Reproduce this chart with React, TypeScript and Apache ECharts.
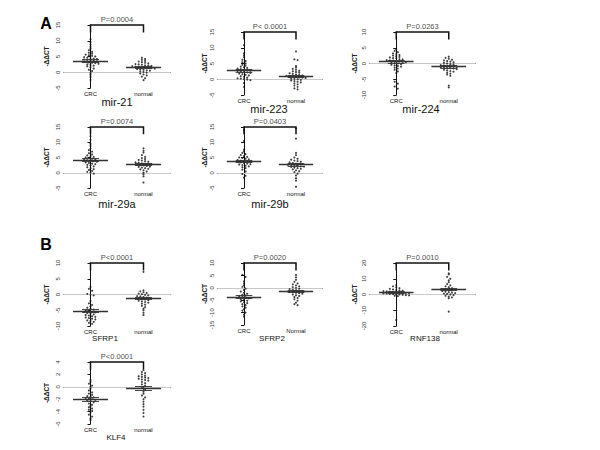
import React, { useEffect, useRef } from "react";
import * as echarts from "echarts";

// ---------- data ----------
const panelNames = ["mir-21", "mir-223", "mir-224", "mir-29a", "mir-29b", "SFRP1", "SFRP2", "RNF138", "KLF4"];
const categories = ["CRC", "normal"];
const categoriesSFRP2 = ["CRC", "Normal"];
const pValues = ["P=0.0004", "P< 0.0001", "P=0.0263", "P=0.0074", "P=0.0403", "P<0.0001", "P=0.0020", "P=0.0010", "P<0.0001"];

const crc21 = [10.5, 9.6, 8.8, 8.1, 7.5, 7.0, 6.5, 6.2, 5.9, 5.6, 5.4, 5.2, 5.0, 4.8, 4.6, 4.5, 4.3, 4.2, 4.0, 3.9, 3.8, 3.7, 3.5, 3.4, 3.3, 3.1, 3.0, 2.9, 2.7, 2.5, 2.3, 2.1, 1.9, 1.6, 1.2, 0.8, 0.4, -0.2, -0.8, -1.5, -2.4];
const normal21 = [4.6, 4.2, 3.9, 3.6, 3.4, 3.2, 3.0, 2.8, 2.6, 2.5, 2.4, 2.2, 2.1, 2.0, 1.9, 1.8, 1.7, 1.6, 1.5, 1.4, 1.3, 1.2, 1.0, 0.9, 0.8, 0.6, 0.5, 0.3, 0.1, -0.1, -0.4, -0.7, -1.0, -1.4, -1.9, -2.5];

const crc223 = [10.8, 8.2, 7.6, 7.0, 6.2, 5.8, 5.4, 5.0, 4.6, 4.3, 4.0, 3.8, 3.6, 3.4, 3.2, 3.0, 2.9, 2.7, 2.6, 2.5, 2.3, 2.2, 2.0, 1.8, 1.6, 1.4, 1.2, 1.0, 0.8, 0.5, 0.3, 0.2, 0.0, -0.1, -0.3, -1.2, -2.4];
const normal223 = [8.8, 6.3, 6.1, 4.2, 3.7, 3.3, 3.0, 2.7, 2.5, 2.3, 2.1, 1.9, 1.7, 1.5, 1.4, 1.2, 1.1, 1.0, 0.9, 0.7, 0.6, 0.5, 0.4, 0.2, 0.1, 0.0, -0.2, -0.4, -0.6, -0.8, -1.0, -1.3, -1.6, -2.0, -2.4, -2.9, -3.2];

const crc224 = [4.5, 4.0, 3.6, 3.2, 3.0, 2.7, 2.5, 2.3, 2.1, 1.9, 1.7, 1.6, 1.4, 1.3, 1.1, 1.0, 0.9, 0.8, 0.6, 0.5, 0.4, 0.2, 0.1, 0.0, -0.2, -0.4, -0.6, -0.8, -1.0, -1.3, -1.6, -2.0, -2.5, -3.0, -5.8, -6.4, -7.3, -8.0];
const normal224 = [2.2, 1.8, 1.5, 1.2, 1.0, 0.8, 0.6, 0.4, 0.2, 0.0, -0.2, -0.3, -0.5, -0.6, -0.8, -0.9, -1.0, -1.1, -1.2, -1.3, -1.4, -1.5, -1.6, -1.8, -2.0, -2.2, -2.4, -2.6, -2.9, -3.2, -3.5, -3.9, -7.0, -7.6];

const crc29a = [12.0, 10.8, 9.5, 8.8, 8.0, 7.4, 6.9, 6.4, 6.0, 5.7, 5.4, 5.2, 5.0, 4.8, 4.6, 4.4, 4.3, 4.1, 4.0, 3.8, 3.6, 3.4, 3.2, 3.0, 2.8, 2.6, 2.4, 2.1, 1.8, 1.5, 1.2, 0.9, 0.6, 0.3, 0.0, -0.3];
const normal29a = [8.0, 7.2, 6.6, 5.8, 5.2, 4.8, 4.5, 4.2, 4.0, 3.8, 3.6, 3.4, 3.3, 3.1, 3.0, 2.9, 2.8, 2.6, 2.5, 2.4, 2.2, 2.0, 1.9, 1.7, 1.5, 1.3, 1.1, 0.8, 0.4, 0.0, -0.5, -1.2, -3.2];

const crc29b = [14.0, 10.4, 7.6, 7.0, 6.5, 6.1, 5.8, 5.5, 5.2, 5.0, 4.8, 4.6, 4.4, 4.2, 4.0, 3.9, 3.8, 3.6, 3.5, 3.4, 3.2, 3.0, 2.8, 2.7, 2.5, 2.3, 2.1, 1.8, 1.5, 1.0, 0.4, -0.4, -1.0, -1.6];
const normal29b = [14.5, 11.2, 6.5, 5.8, 5.0, 4.6, 4.3, 4.0, 3.8, 3.6, 3.4, 3.2, 3.0, 2.9, 2.8, 2.6, 2.5, 2.4, 2.3, 2.1, 2.0, 1.9, 1.7, 1.5, 1.3, 1.1, 0.8, 0.5, 0.2, -0.3, -0.9, -1.8, -2.6, -4.6];

const crcSFRP1 = [2.4, 1.8, 1.2, 0.2, -0.1, -0.3, -2.0, -2.8, -3.3, -3.8, -4.2, -4.5, -4.8, -5.0, -5.3, -5.5, -5.7, -5.9, -6.1, -6.3, -6.5, -6.7, -6.9, -7.1, -7.3, -7.5, -7.7, -7.9, -8.2, -8.4, -8.7, -9.0, -9.3];
const normalSFRP1 = [7.2, 1.3, 1.0, 0.7, 0.5, 0.3, 0.1, -0.1, -0.3, -0.5, -0.6, -0.8, -1.0, -1.1, -1.3, -1.4, -1.6, -1.8, -2.0, -2.2, -2.4, -2.6, -2.9, -3.2, -3.6, -4.0, -4.5, -5.0, -5.8, -6.5];

const crcSFRP2 = [5.2, 4.4, 2.6, 1.8, 1.0, 0.4, -0.3, -0.9, -1.5, -2.0, -2.4, -2.8, -3.1, -3.4, -3.7, -4.0, -4.3, -4.6, -4.9, -5.2, -5.5, -5.8, -6.2, -6.6, -7.0, -7.5, -8.0, -8.6, -9.2, -10.0, -10.8, -11.6];
const normalSFRP2 = [5.2, 4.2, 3.2, 2.4, 1.8, 1.4, 1.0, 0.6, 0.3, 0.0, -0.3, -0.5, -0.8, -1.0, -1.2, -1.4, -1.6, -1.8, -2.0, -2.2, -2.4, -2.7, -3.0, -3.3, -3.7, -4.1, -4.6, -5.2, -6.0, -6.6, -7.0];

const crcRNF138 = [6.0, 5.2, 4.6, 4.0, 3.6, 3.2, 2.9, 2.6, 2.4, 2.2, 2.0, 1.8, 1.6, 1.5, 1.3, 1.2, 1.0, 0.9, 0.7, 0.6, 0.4, 0.3, 0.1, 0.0, -0.2, -0.4, -0.6, -0.8, -1.0, -16.2];
const normalRNF138 = [13.4, 12.8, 11.2, 10.0, 9.0, 7.8, 6.6, 5.8, 5.2, 4.6, 4.0, 3.5, 3.0, 2.6, 2.2, 1.8, 1.5, 1.2, 0.9, 0.6, 0.3, 0.0, -0.4, -0.8, -1.3, -1.8, -2.4, -10.9];

const crcKLF4 = [1.1, 0.8, 0.5, 0.2, 0.0, -0.3, -0.6, -0.9, -1.1, -1.3, -1.5, -1.6, -1.7, -1.8, -1.9, -2.0, -2.1, -2.2, -2.3, -2.5, -2.7, -2.9, -3.1, -3.3, -3.5, -3.7, -3.9, -4.2, -4.5, -4.8, -5.1, -5.35];
const normalKLF4 = [2.7, 2.4, 2.2, 2.0, 1.8, 1.7, 1.6, 1.5, 1.4, 1.3, 1.2, 1.1, 1.0, 0.8, 0.6, 0.4, 0.2, 0.0, -0.2, -0.5, -0.8, -1.1, -1.4, -1.7, -2.0, -2.4, -2.8, -3.2, -3.7, -4.2, -4.8];

const crcSets = [crc21, crc223, crc224, crc29a, crc29b, crcSFRP1, crcSFRP2, crcRNF138, crcKLF4];
const normalSets = [normal21, normal223, normal224, normal29a, normal29b, normalSFRP1, normalSFRP2, normalRNF138, normalKLF4];

const crcMeans = [3.6, 2.8, 0.6, 4.2, 3.75, -5.2, -3.8, 1.4, -2.0];
const crcSEM = [0.4, 0.45, 0.45, 0.45, 0.45, 0.5, 0.6, 0.7, 0.25];
const normalMeans = [1.6, 1.0, -1.0, 2.9, 2.7, -1.2, -1.3, 3.3, -0.24];
const normalSEM = [0.25, 0.4, 0.35, 0.35, 0.5, 0.4, 0.45, 0.9, 0.28];

const yMins = [-5, -5, -10, -5, -5, -10, -15, -20, -6];
const yMaxs = [15, 15, 10, 15, 15, 10, 10, 20, 4];
const yIntervals = [5, 5, 5, 5, 5, 5, 5, 10, 2];

// ---------- layout ----------
const layout = [
  { left: 64, top: 25, width: 106, height: 63, nameGap: 14, tx: 117, ty: 102, tsize: 11 },
  { left: 218, top: 32, width: 104, height: 63, nameGap: 10, tx: 269, ty: 109, tsize: 11 },
  { left: 370, top: 32, width: 105, height: 63, nameGap: 12, tx: 421, ty: 109, tsize: 11 },
  { left: 64, top: 127, width: 106, height: 61, nameGap: 14, tx: 117, ty: 204, tsize: 11 },
  { left: 218, top: 127, width: 104, height: 61, nameGap: 10, tx: 270, ty: 204, tsize: 11 },
  { left: 64, top: 263, width: 106, height: 63, nameGap: 14, tx: 105, ty: 338, tsize: 8 },
  { left: 218, top: 263, width: 104, height: 62, nameGap: 10, tx: 272, ty: 338, tsize: 8 },
  { left: 370, top: 263, width: 105, height: 63, nameGap: 12, tx: 425, ty: 338, tsize: 8 },
  { left: 64, top: 362, width: 106, height: 62, nameGap: 14, tx: 116, ty: 437, tsize: 8 },
];

const FONT = "Liberation Sans, Arial, Helvetica, sans-serif";

// beeswarm-style horizontal spreading of points with similar values
function swarm(values: number[], center: number, pxPerUnit: number, pxPerX: number) {
  const bin = 2.4 / pxPerUnit;
  const groups = new Map<number, number[]>();
  values.forEach((v) => {
    const k = Math.round(v / bin);
    if (!groups.has(k)) groups.set(k, []);
    groups.get(k)!.push(v);
  });
  const out: number[][] = [];
  groups.forEach((vals) => {
    const n = vals.length;
    vals.forEach((v, i) => {
      const off = (i - (n - 1) / 2) * (3.2 / pxPerX);
      out.push([center + off, v]);
    });
  });
  return out;
}

function buildOption() {
  const grid: any[] = [];
  const xAxis: any[] = [];
  const yAxis: any[] = [];
  const series: any[] = [];
  const graphic: any[] = [];

  panelNames.forEach((name, i) => {
    const L = layout[i];
    const min = yMins[i];
    const max = yMaxs[i];
    const pxPerUnit = L.height / (max - min);
    const pxPerX = L.width / 2;
    grid.push({ left: L.left, top: L.top, width: L.width, height: L.height, containLabel: false });
    xAxis.push({
      type: "category",
      gridIndex: i,
      data: i === 6 ? categoriesSFRP2 : categories,
      boundaryGap: true,
      axisLine: { show: true, lineStyle: { color: "#111", width: 1 } },
      axisTick: { show: false },
      axisLabel: { fontSize: 6, color: "#111", margin: 3, fontFamily: FONT },
      splitLine: { show: false },
    });
    xAxis.push({ type: "value", gridIndex: i, min: -0.5, max: 1.5, show: false });
    yAxis.push({
      type: "value",
      gridIndex: i,
      min,
      max,
      interval: yIntervals[i],
      axisLine: { show: true, lineStyle: { color: "#111", width: 1 } },
      axisTick: { show: true, length: 3, lineStyle: { color: "#111" } },
      axisLabel: { fontSize: 6, color: "#333", rotate: 90, margin: 3, fontFamily: FONT },
      splitLine: { show: false },
      name: "-ΔΔCT",
      nameLocation: "middle",
      nameRotate: 90,
      nameGap: L.nameGap,
      nameTextStyle: { fontSize: 6.5, fontWeight: "bold", color: "#222", fontFamily: FONT },
    });
    const xi = 2 * i + 1;
    // zero reference line
    series.push({
      type: "lines",
      coordinateSystem: "cartesian2d",
      xAxisIndex: xi,
      yAxisIndex: i,
      silent: true,
      z: 1,
      lineStyle: { color: "#c8c8c8", width: 1, opacity: 1 },
      data: [{ coords: [[-0.5, 0], [1.5, 0]] }],
    });
    // points
    const pts = [
      ...swarm(crcSets[i], 0, pxPerUnit, pxPerX),
      ...swarm(normalSets[i], 1, pxPerUnit, pxPerX),
    ];
    series.push({
      type: "scatter",
      xAxisIndex: xi,
      yAxisIndex: i,
      symbol: "circle",
      symbolSize: 2.1,
      itemStyle: { color: "#111" },
      silent: true,
      z: 3,
      data: pts,
    });
    // mean & SEM
    const segs: any[] = [];
    [
      [0, crcMeans[i], crcSEM[i]],
      [1, normalMeans[i], normalSEM[i]],
    ].forEach(([c, m, s]) => {
      segs.push({ coords: [[c - 0.33, m], [c + 0.33, m]], lineStyle: { width: 1.3 } });
      segs.push({ coords: [[c - 0.16, m + s], [c + 0.16, m + s]] });
      segs.push({ coords: [[c - 0.16, m - s], [c + 0.16, m - s]] });
      segs.push({ coords: [[c, m - s], [c, m + s]] });
    });
    series.push({
      type: "lines",
      coordinateSystem: "cartesian2d",
      xAxisIndex: xi,
      yAxisIndex: i,
      silent: true,
      z: 4,
      lineStyle: { color: "#333", width: 0.9, opacity: 1 },
      data: segs,
    });
    // bracket
    const leg = max - (max - min) * 0.12;
    series.push({
      type: "lines",
      coordinateSystem: "cartesian2d",
      xAxisIndex: xi,
      yAxisIndex: i,
      polyline: true,
      silent: true,
      clip: false,
      z: 5,
      lineStyle: { color: "#111", width: 1.5, opacity: 1 },
      data: [{ coords: [[0, leg], [0, max], [1, max], [1, leg]] }],
    });
    // p-value label
    series.push({
      type: "scatter",
      xAxisIndex: xi,
      yAxisIndex: i,
      symbolSize: 0,
      silent: true,
      clip: false,
      data: [[0.5, max]],
      label: {
        show: true,
        position: "top",
        distance: 2,
        formatter: pValues[i],
        fontSize: 7.5,
        color: "#111",
        fontFamily: FONT,
      },
    });
    // panel title
    graphic.push({
      type: "text",
      x: L.tx,
      y: L.ty,
      silent: true,
      style: {
        text: name,
        fill: "#111",
        font: `${L.tsize}px ${FONT}`,
        align: "center",
        verticalAlign: "middle",
      },
    });
  });

  graphic.push({
    type: "text",
    x: 46,
    y: 23,
    style: { text: "A", fill: "#000", font: `bold 16px ${FONT}`, align: "center", verticalAlign: "middle" },
  });
  graphic.push({
    type: "text",
    x: 46,
    y: 244,
    style: { text: "B", fill: "#000", font: `bold 16px ${FONT}`, align: "center", verticalAlign: "middle" },
  });

  return {
    animation: false,
    backgroundColor: "#ffffff",
    textStyle: { fontFamily: FONT },
    grid,
    xAxis,
    yAxis,
    series,
    graphic,
  };
}

export default function App() {
  const ref = useRef<HTMLDivElement>(null);
  useEffect(() => {
    if (!ref.current) return;
    const chart = echarts.init(ref.current, undefined, { renderer: "svg" });
    chart.setOption(buildOption() as any);
    return () => chart.dispose();
  }, []);
  return (
    <div
      ref={ref}
      style={{ position: "absolute", left: 0, top: 0, width: 600, height: 450, background: "#fff" }}
    />
  );
}
